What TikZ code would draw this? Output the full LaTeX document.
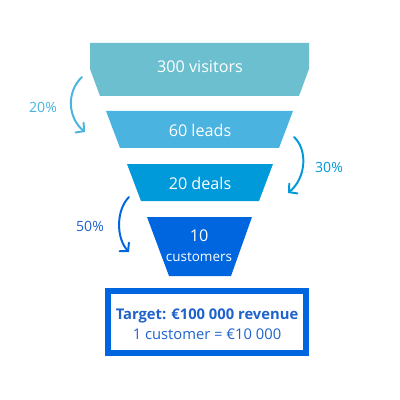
\documentclass[tikz,border=0pt]{standalone}
\usepackage{fontspec}
\setmainfont{Open Sans}
\usepackage{tikz}
\usetikzlibrary{arrows.meta,positioning}

\definecolor{visitcol}{HTML}{6BBFCF}
\definecolor{leadcol}{HTML}{4BB3E0}
\definecolor{dealcol}{HTML}{0099D9}
\definecolor{custcol}{HTML}{0066DF}
\definecolor{targetcol}{HTML}{1F62CC}

\tikzset{
	stage/.style={text=white, font=\fontsize{11.5}{14}\selectfont, align=center},
	rate/.style={font=\fontsize{10}{12}\selectfont},
	flow/.style={line width=1.4pt, line cap=round, -{Straight Barb[length=4pt,width=9pt,line cap=round]}},
}

\begin{document}
\begin{tikzpicture}[x=0.025cm,y=-0.025cm]
			\useasboundingbox (0,0) rectangle (400,400);
			% funnel
			\fill[visitcol] (90,43) -- (309,43) -- (309,69) -- (299,96) -- (100,96) -- (90,69) -- cycle;
			\fill[leadcol] (106,111) -- (293,111) -- (279,148) -- (120,148) -- cycle;
			\fill[dealcol] (127,164) -- (273,164) -- (259,201) -- (141,201) -- cycle;
			\fill[custcol] (147,217) -- (252,217) -- (231,276) -- (169,276) -- cycle;
			\node[stage] (visitors) at (200,67) {300 visitors};
			\node[stage] (leads) at (200,130) {60 leads};
			\node[stage] (deals) at (200,183) {20 deals};
			\node[stage, font=\fontsize{11.5}{14.2}\selectfont] (customers) at (199,246) {10\\{\fontsize{9.6}{12}\selectfont customers}};
			% target box
			\draw[custcol, line width=4.27pt] (108,291) rectangle (306,353);
			\node[text=targetcol, align=center, font=\fontsize{10.5}{14.2}\selectfont] (target) at (207,324) {\textbf{Target: €100 000 revenue}\\1 customer = €10 000};
			% conversion arrows
			\coordinate (r1s) at (82,77);
			\coordinate (r1e) at (85,132);
			\coordinate (r2s) at (294,137);
			\coordinate (r2e) at (288,193);
			\coordinate (r3s) at (129,197);
			\coordinate (r3e) at (129,252);
			\draw[flow, leadcol] (r1s) .. controls (66,92) and (68,118) .. (r1e);
			\draw[flow, dealcol] (r2s) .. controls (308,150) and (306,178) .. (r2e);
			\draw[flow, custcol] (r3s) .. controls (116,210) and (116,238) .. (r3e);
			\node[rate, text=leadcol] (rate1) at (43,107) {20\%};
			\node[rate, text=dealcol] (rate2) at (329,167) {30\%};
			\node[rate, text=targetcol] (rate3) at (90,226) {50\%};
		\end{tikzpicture}
\end{document}
